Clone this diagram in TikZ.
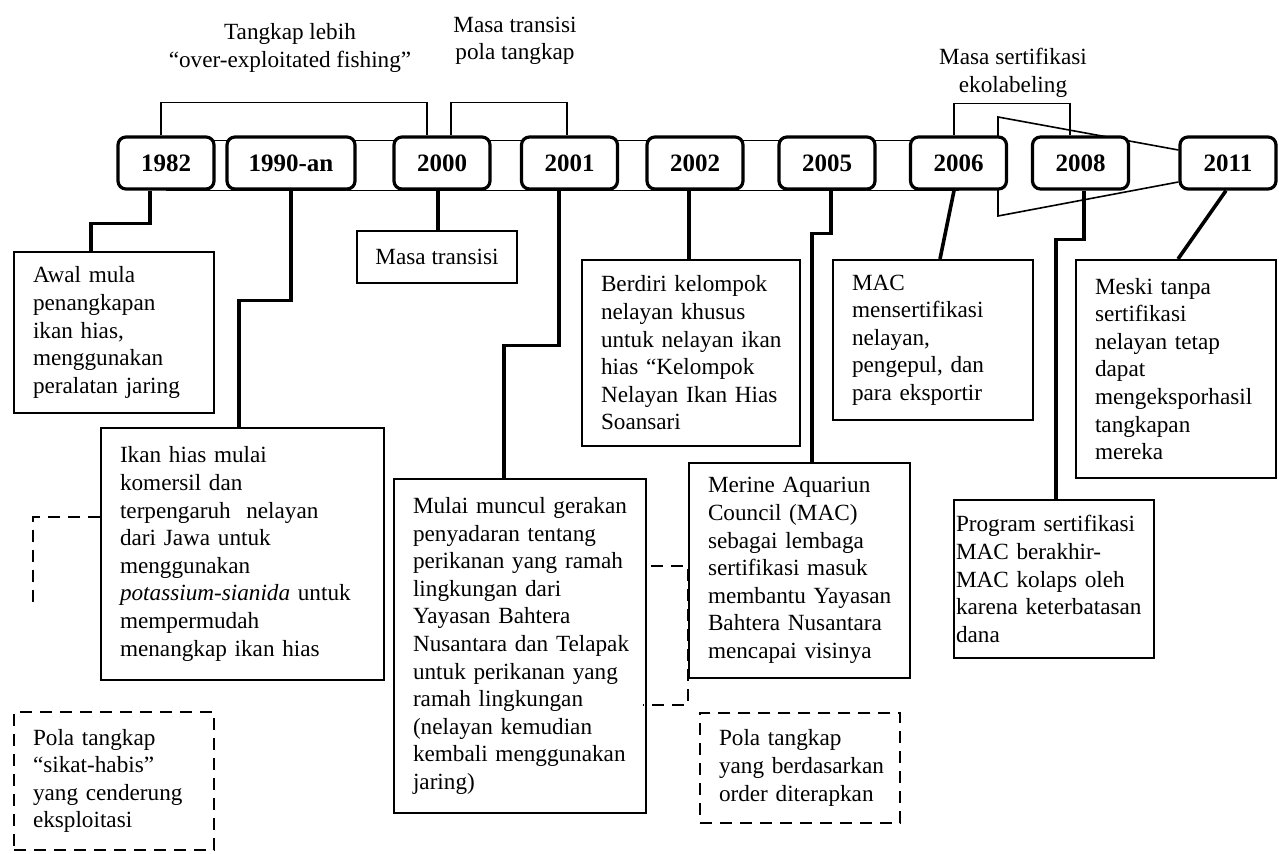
\documentclass[tikz,border=0pt]{standalone}
\usepackage{fontspec}
\setmainfont{Liberation Serif}
\usetikzlibrary{positioning,calc,backgrounds}

\begin{document}
\begin{tikzpicture}[x=0.5pt,y=-0.5pt,
every node/.style={font=\fontsize{11.6}{13.8}\selectfont},
year/.style={rectangle, rounded corners=4pt, draw, line width=1.6pt, fill=white, minimum width=48pt, minimum height=26pt, inner sep=0pt, font=\fontsize{12.5}{14}\selectfont\bfseries},
event/.style={rectangle, draw, line width=1pt, fill=white, align=left, inner xsep=7pt, inner ysep=0pt,
  execute at begin node={\leftskip=2.5pt\hyphenpenalty=10000}},
pola/.style={event, dash pattern=on 6pt off 4pt},
link/.style={line width=1.8pt},
band/.style={line width=0.8pt},
dashlink/.style={line width=1pt, dash pattern=on 6pt off 4pt}
]
\useasboundingbox (0,0) rectangle (1279,854);

% Years
\node[year] (y1982) at (166,163) {1982};
\node[year, minimum width=64pt] (y1990) at (291,163) {1990-an};
\node[year] (y2000) at (442,163) {2000};
\node[year] (y2001) at (569.5,163) {2001};
\node[year] (y2002) at (695,163) {2002};
\node[year] (y2005) at (827,163) {2005};
\node[year] (y2006) at (958.5,163) {2006};
\node[year] (y2008) at (1080.5,163) {2008};
\node[year] (y2011) at (1228,163) {2011};

% Band and funnel behind the years
\coordinate (funtop) at (998,117);
\coordinate (funbot) at (998,216);
\begin{scope}[on background layer]
\draw[band] ([shift={(0,5)}]y1982.north) -- ([shift={(0,5)}]y2006.north);
\draw[band] (y1982.south) -- (y2006.south);
\draw[band] ([shift={(0,-13)}]y2011.west) -- (funtop) -- (funbot) -- ([shift={(0,19)}]y2011.west);
\end{scope}

% Periods
\draw[band] ([shift={(-5,0)}]y1982.north) -- ++(0,-33) -| ([shift={(-15,0)}]y2000.north);
\node[align=center] (over) at (290,48) {Tangkap lebih\\“over-exploitated fishing”};
\draw[band] ([shift={(9,0)}]y2000.north) -- ++(0,-33) -| ([shift={(-2.5,0)}]y2001.north);
\node[align=center] (trans) at (515,41) {Masa transisi\\pola tangkap};
\draw[band] ([shift={(-4.5,0)}]y2006.north) -- ++(0,-32) -| ([shift={(-10.5,0)}]y2008.north);
\node[align=center] (sert) at (1013,73) {Masa sertifikasi\\ekolabeling};

% Events
\node[event, text width=86pt, minimum height=80.5pt] (awal) at (114,332.5)
  {Awal mula\\penangkapan\\ikan hias,\\menggunakan\\peralatan jaring};
\node[event, text width=127.5pt, minimum height=126pt] (ikan) at (242.5,554)
  {Ikan hias mulai\\komersil dan\\terpengaruh\ \ nelayan\\dari Jawa untuk\\menggunakan\\\textit{potassium-sianida} untuk\\mempermudah\\menangkap ikan hias};
\node[event, align=center, minimum width=80pt, minimum height=26pt] (transisi) at (437,257) {Masa transisi};
\node[event, text width=112pt, minimum height=167pt] (mulai) at (520,646)
  {Mulai muncul gerakan\\penyadaran tentang\\perikanan yang ramah\\lingkungan dari\\Yayasan Bahtera\\Nusantara dan Telapak\\untuk perikanan yang\\ramah lingkungan\\(nelayan kemudian\\kembali menggunakan\\jaring)};
\node[event, text width=95pt, minimum height=93pt] (berdiri) at (691,353)
  {Berdiri kelompok\\nelayan khusus\\untuk nelayan ikan\\hias “Kelompok\\Nelayan Ikan Hias\\Soansari};
\node[event, text width=96.5pt, minimum height=107.5pt] (merine) at (799.5,570.5)
  {Merine Aquariun\\Council (MAC)\\sebagai lembaga\\sertifikasi masuk\\membantu Yayasan\\Bahtera Nusantara\\mencapai visinya};
\node[event, text width=86pt, minimum height=80pt] (mac) at (933,340)
  {MAC\\mensertifikasi\\nelayan,\\pengepul, dan\\para eksportir};
\node[event, inner xsep=1pt, text width=98pt, minimum height=79pt, execute at begin node={\leftskip=0pt}] (program) at (1054,579)
  {Program sertifikasi\\MAC berakhir-\\MAC kolaps oleh\\karena keterbatasan\\dana};
\node[event, text width=86pt, minimum height=109pt] (meski) at (1176,369)
  {Meski tanpa\\sertifikasi\\nelayan tetap\\dapat\\mengeksporhasil\\tangkapan\\mereka};

% Fishing patterns
\node[pola, text width=86pt, minimum height=69pt] (sikat) at (114,781)
  {Pola tangkap\\“sikat-habis”\\yang cenderung\\eksploitasi};
\node[pola, text width=86pt, minimum height=55pt] (order) at (800,768)
  {Pola tangkap\\yang berdasarkan\\order diterapkan};

% Links
\draw[link] ([shift={(-16,0)}]y1982.south) -- ++(0,33) -| ([shift={(-23,0)}]awal.north);
\draw[link] (y1990.south) -- ++(0,110) -| ([shift={(-3.5,0)}]ikan.north);
\draw[link] ([shift={(1,0)}]transisi.north) -- ([shift={(1,0)}]transisi.north |- y2000.south);
\draw[link] ([shift={(-10.5,0)}]y2001.south) -- ++(0,155) -| ([shift={(-16,0)}]mulai.north);
\draw[link] ([shift={(-2,0)}]berdiri.north) -- ([shift={(-2,0)}]berdiri.north |- y2002.south);
\draw[link] ([shift={(4,0)}]y2005.south) -- ++(0,43) -| ([shift={(12.5,0)}]merine.north);
\draw[link] ([shift={(-4.5,0)}]y2006.south) -- ([shift={(7,0)}]mac.north);
\draw[link] ([shift={(3.5,0)}]y2008.south) -- ++(0,49) -| ([shift={(2,0)}]program.north);
\draw[link] ([shift={(-2,0)}]y2011.south) -- ([shift={(2,0)}]meski.north);

% Dashed ties
\coordinate (tieend) at (33,607);
\draw[dashlink] ([shift={(0,-37)}]ikan.west) -| (tieend);
\draw[dashlink] ([shift={(4,-80)}]mulai.east) -- ++(37,0) -- ++(0,139) -- ++(-45,0);

\end{tikzpicture}
\end{document}
